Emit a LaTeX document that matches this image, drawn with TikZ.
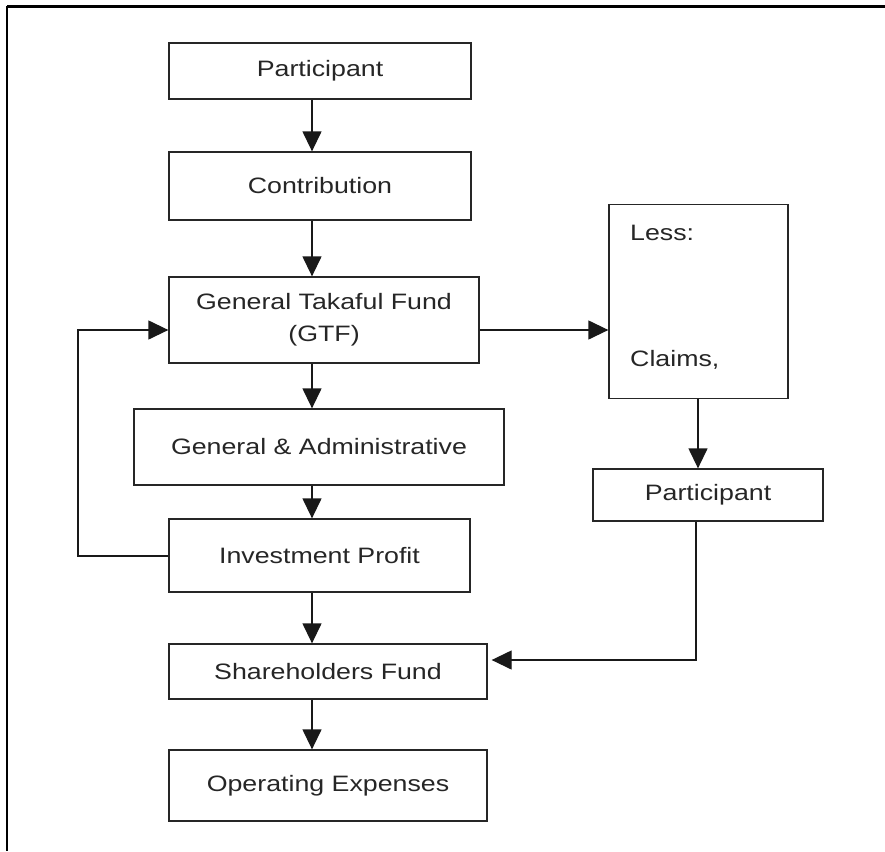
\documentclass[tikz,border=0pt]{standalone}
\usepackage{fontspec}
\setmainfont{Liberation Sans}[FakeStretch=1.2]
\usetikzlibrary{arrows.meta}
\begin{document}
\begin{tikzpicture}[x=1pt,y=-1pt,
  txt/.style={font=\fontsize{22.3}{31.7}\selectfont, text=black!85},
  box/.style={txt, draw=black!85, line width=1.3pt, rectangle, inner sep=0pt, align=center},
  arr/.style={line width=1.3pt, draw=black!90, -{Triangle[length=20pt,width=19pt]}},
  conn/.style={line width=1.3pt, draw=black!90}]
\useasboundingbox (0,0) rectangle (885,851);
% frame
\coordinate (frTL) at (7,6.5);
\coordinate (frTR) at (885,6.5);
\coordinate (frBL) at (7,851);
\draw[line width=2.6pt] (frTL) -- (frTR);
\draw[line width=2pt] (frTL) -- (frBL);
% boxes
\node[box, minimum width=302pt, minimum height=56pt] (p1) at (320,71) {Participant};
\node[box, minimum width=302pt, minimum height=68pt] (contrib) at (320,186) {Contribution};
\node[box, minimum width=310pt, minimum height=86pt] (gtf) at (324,320) {General Takaful Fund\\(GTF)};
\node[box, minimum width=370pt, minimum height=76pt] (ga) at (319,447) {General \& Administrative};
\node[box, minimum width=301pt, minimum height=73pt] (ip) at (319.5,555.5) {Investment Profit};
\node[box, minimum width=318pt, minimum height=55pt] (sf) at (328,671.5) {Shareholders Fund};
\node[box, minimum width=318pt, minimum height=71pt] (oe) at (328,785.5) {Operating Expenses};
\node[box, minimum width=179pt, minimum height=194pt] (less) at (698.5,301.5) {};
\node[txt, anchor=base west, inner sep=0pt] (lesstxt) at (630,240) {Less:};
\node[txt, anchor=base west, inner sep=0pt] (claimstxt) at (630,366.7) {Claims,};
\node[box, minimum width=230pt, minimum height=52pt] (p2) at (708,495) {Participant};
% helper coordinates
\coordinate (ax) at (312,0);
\coordinate (bx) at (698,0);
\coordinate (fbtop) at (78,330);
\coordinate (rightbend) at (696,660);
% main column arrows
\draw[arr] (p1.south -| ax) -- (contrib.north -| ax);
\draw[arr] (contrib.south -| ax) -- (gtf.north -| ax);
\draw[arr] (gtf.south -| ax) -- (ga.north -| ax);
\draw[arr] (ga.south -| ax) -- (ip.north -| ax);
\draw[arr] (ip.south -| ax) -- (sf.north -| ax);
\draw[arr] (sf.south -| ax) -- (oe.north -| ax);
% feedback loop
\draw[arr] (ip.west |- 0,556) -- (fbtop |- 0,556) -- (fbtop) -- (gtf.west |- fbtop);
% right branch
\draw[arr] (gtf.east |- fbtop) -- (less.west |- fbtop);
\draw[arr] (less.south -| bx) -- (p2.north -| bx);
\draw[arr, shorten >=4pt] (p2.south -| rightbend) -- (rightbend) -- (sf.east |- rightbend);
\end{tikzpicture}
\end{document}
